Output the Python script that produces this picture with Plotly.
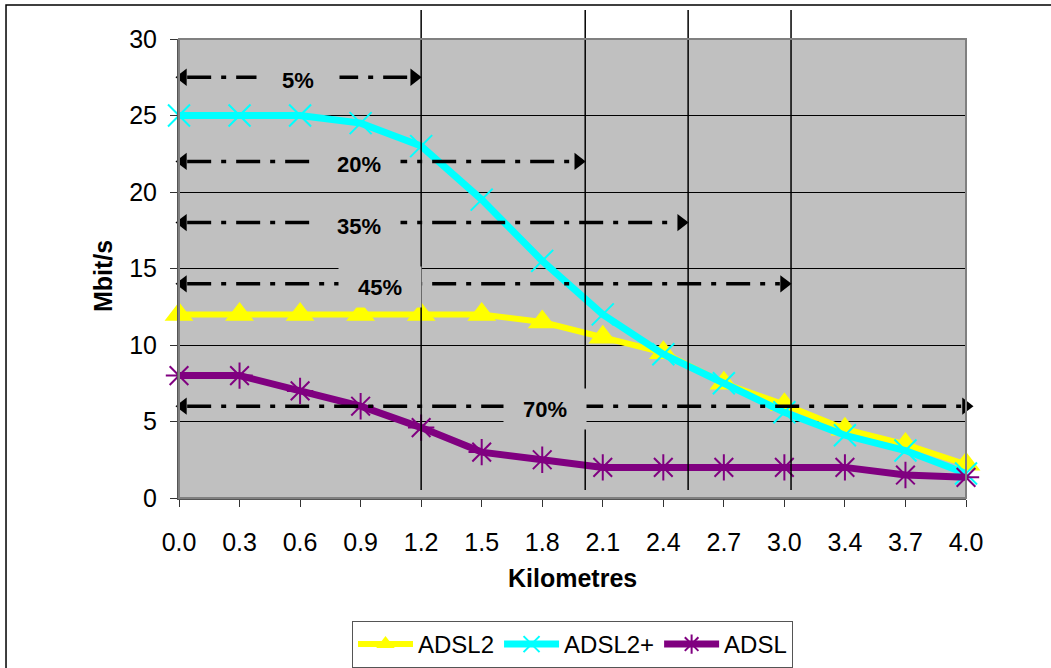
import plotly.graph_objects as go

km_labels = ["0.0", "0.3", "0.6", "0.9", "1.2", "1.5", "1.8", "2.1", "2.4", "2.7", "3.0", "3.4", "3.7", "4.0"]
adsl2 = [12, 12, 12, 12, 12, 12, 11.5, 10.5, 9.5, 7.5, 6.1, 4.5, 3.5, 2.2]
adsl2plus = [25, 25, 25, 24.5, 23, 19.5, 15.5, 12, 9.4, 7.5, 5.6, 4.1, 3.1, 1.6]
adsl = [8, 8, 7, 6, 4.6, 3, 2.5, 2, 2, 2, 2, 2, 1.5, 1.35]

# coverage arrows: label, y value, end position (in category-index units)
arrow_labels = ["5%", "20%", "35%", "45%", "70%"]
arrow_y = [27.5, 22, 18, 14, 6]
arrow_end = [4.0, 6.71, 8.41, 10.11, 13.15]
arrow_label_x = [1.97, 2.97, 2.97, 3.32, 6.05]
arrow_start = -0.05

# vertical distance markers (category-index units)
vlines_x = [4.0, 6.71, 8.41, 10.11]

x_idx = list(range(len(km_labels)))
FONT = "Arial, 'Liberation Sans', sans-serif"

fig = go.Figure()

series = [
    ("ADSL2", adsl2, "#FFFF00", "triangle-up", 25, 0, 6),
    ("ADSL2+", adsl2plus, "#00FFFF", "x-thin", 22, 2, 7),
    ("ADSL", adsl, "#800080", "asterisk", 22, 2, 7),
]
for name, ys, col, sym, sz, lw, w in series:
    fig.add_trace(go.Scatter(
        x=x_idx, y=ys, name=name, mode="lines+markers",
        line=dict(color=col, width=w),
        marker=dict(symbol=sym, size=sz, color=col, line=dict(color=col, width=lw)),
        cliponaxis=False, hoverinfo="skip",
    ))

shapes = []
# dash-dot arrow shafts
px_per_idx = 787 / 13
head_idx = 14 / px_per_idx
for yv, xe in zip(arrow_y, arrow_end):
    shapes.append(dict(type="line", xref="x", yref="y",
                       x0=arrow_start + head_idx * 0.8, x1=min(xe - head_idx * 0.8, 13),
                       y0=yv, y1=yv, layer="above",
                       line=dict(color="black", width=3.5, dash="24px,10px,5px,10px")))
# vertical lines
for xv in vlines_x:
    shapes.append(dict(type="line", xref="x", yref="paper",
                       x0=xv, x1=xv, y0=0.0174, y1=1.063, layer="above",
                       line=dict(color="black", width=1.5)))
# outer chart border
shapes.append(dict(type="rect", xref="paper", yref="paper",
                   x0=-0.2198, x1=1.3, y0=-0.6, y1=1.074,
                   line=dict(color="black", width=1.5), layer="below"))
# plot area border
shapes.append(dict(type="rect", xref="paper", yref="paper",
                   x0=0, x1=1, y0=0, y1=1,
                   line=dict(color="#808080", width=2), layer="above"))

# arrowheads
fig.add_trace(go.Scatter(
    x=[arrow_start + 0.115] * len(arrow_y), y=arrow_y, mode="markers",
    marker=dict(symbol="triangle-left", size=15, color="black"),
    showlegend=False, hoverinfo="skip", cliponaxis=False))
fig.add_trace(go.Scatter(
    x=[min(xe - 0.115, 13) for xe in arrow_end], y=arrow_y, mode="markers",
    marker=dict(symbol="triangle-right", size=15, color="black"),
    showlegend=False, hoverinfo="skip", cliponaxis=False))

annotations = []
for lab, yv, xl in zip(arrow_labels, arrow_y, arrow_label_x):
    annotations.append(dict(x=xl, y=yv, xref="x", yref="y", text="<b>%s</b>" % lab,
                            showarrow=False, bgcolor="#C0C0C0", width=80, height=38,
                            yshift=-3,
                            font=dict(family=FONT, size=22, color="black")))
annotations.append(dict(x=0.5, xref="paper", y=(498 - 578) / 459, yref="paper",
                        xanchor="center", yanchor="middle", text="<b>Kilometres</b>",
                        showarrow=False, font=dict(family=FONT, size=25, color="black")))
annotations.append(dict(x=(103 - 179) / 787, xref="paper", y=(498 - 276) / 459, yref="paper",
                        xanchor="center", yanchor="middle",
                        text="<b>Mbit/s</b>", textangle=-90, showarrow=False,
                        font=dict(family=FONT, size=25, color="black")))

fig.update_layout(
    width=1051, height=668,
    margin=dict(l=179, r=85, t=39, b=170, autoexpand=False),
    paper_bgcolor="white", plot_bgcolor="#C0C0C0",
    font=dict(family=FONT, size=25, color="black"),
    shapes=shapes, annotations=annotations,
    legend=dict(orientation="h", x=0.5, xanchor="center", y=(498 - 621) / 459, yanchor="top",
                bordercolor="#555555", borderwidth=1, bgcolor="white",
                font=dict(family=FONT, size=24, color="black"),
                itemwidth=55, tracegroupgap=0),
    showlegend=True,
)
fig.update_xaxes(range=[0, 13], tickmode="array", tickvals=x_idx, ticktext=km_labels,
                 showgrid=False, zeroline=False, ticks="outside", ticklen=7,
                 tickcolor="#333333", showline=True, linecolor="#555555", linewidth=2,
                 ticklabelstandoff=14,
                 tickfont=dict(family=FONT, size=25, color="black"))
fig.update_yaxes(range=[0, 30], dtick=5, showgrid=True, gridcolor="black", gridwidth=1,
                 zeroline=False, ticks="outside", ticklen=7, tickcolor="#333333",
                 showline=True, linecolor="#555555", linewidth=2,
                 ticklabelstandoff=8,
                 tickfont=dict(family=FONT, size=25, color="black"))

fig.write_html("out.html")
